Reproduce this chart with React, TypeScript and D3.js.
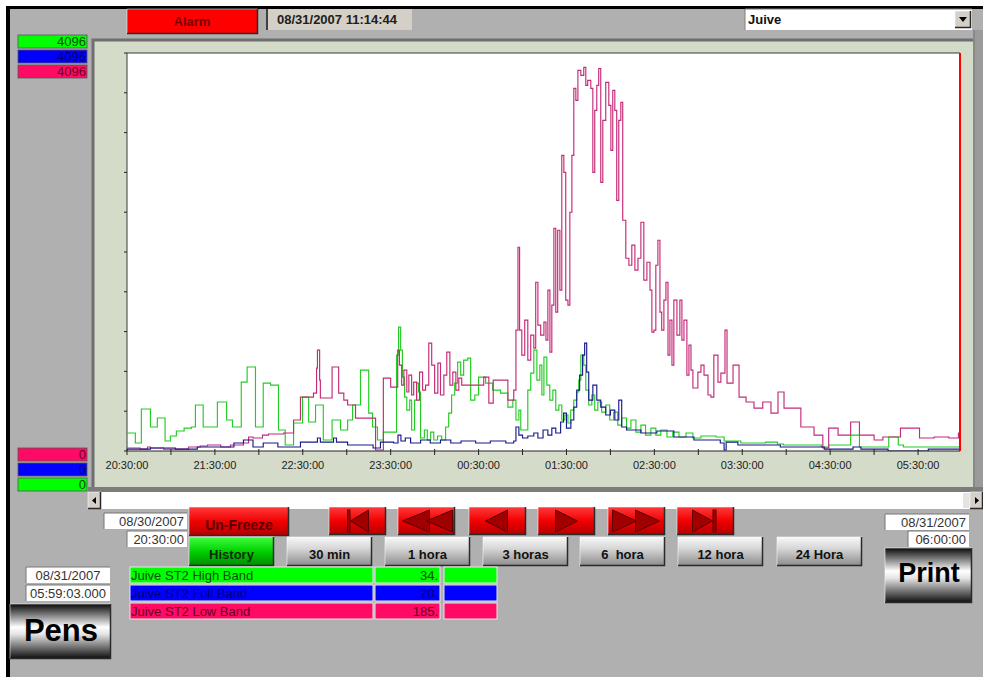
import React from "react";
import * as d3 from "d3";

// trend window shown on screen
const START = new Date(2007, 7, 30, 20, 30, 0);
const END = new Date(2007, 7, 31, 6, 0, 0);
const FULL_SCALE = 4096;

const xLabels = ["20:30:00", "21:30:00", "22:30:00", "23:30:00", "00:30:00", "01:30:00", "02:30:00", "03:30:00", "04:30:00", "05:30:00"];

// [minutes after 20:30, raw counts]
const highBand = [
  [0, 185], [5.7, 82], [9.8, 432], [16, 247], [20.7, 340], [26, 103], [29.6, 154], [33.7, 206], [39, 236], [44, 247],
  [46.7, 473], [52, 247], [61.7, 504], [68, 319], [72, 247], [78, 709], [82, 864], [87.7, 247], [93, 699], [98, 678],
  [103.4, 216], [108, 62], [113.7, 288], [119.8, 555], [124, 298], [128.7, 473], [134, 113], [140, 319], [145.8, 216],
  [150.6, 319], [154, 473], [159.4, 833], [165, 390], [167.6, 247], [171, 113], [175, 195], [184, 987], [185.4, 1275],
  [186.8, 1038], [188, 761], [189.5, 555], [191, 421], [193, 524], [194.3, 216], [196.3, 524], [197.7, 699], [199, 607],
  [200.4, 134], [203, 216], [205, 113], [207.3, 195], [209.4, 113], [212, 154], [214.8, 113], [217.5, 247], [219.6, 390],
  [221.6, 576], [223.7, 699], [225.7, 915], [227.8, 781], [229.8, 935], [232.6, 956], [234.6, 524], [237.4, 576],
  [240, 761], [244.8, 699], [249.6, 627], [255, 596], [260, 452], [263.4, 524], [265.5, 319], [267.5, 421], [268.8, 216],
  [273.6, 627], [275.6, 802], [277.7, 1038], [279.8, 730], [281.8, 884], [283.2, 576], [284.6, 966], [286.6, 678],
  [288.6, 524], [290.7, 627], [292.7, 421], [294.8, 473], [296.8, 319], [298.9, 370], [301, 288], [302.9, 421], [305, 524],
  [307, 607], [308.4, 730], [309.8, 987], [311.8, 884], [313.2, 627], [315.2, 473], [317.3, 576], [319.3, 421], [321.4, 504],
  [324, 400], [326.8, 473], [329.5, 319], [332.2, 400], [335, 267], [337.7, 340], [341, 236], [344, 319], [347.4, 195],
  [350.8, 267], [354, 164], [357.6, 236], [361, 164], [364.4, 216], [368.6, 144], [372.6, 195], [376.8, 144], [381.6, 185],
  [386.3, 134], [391.8, 154], [402, 144], [407.6, 103], [419, 82], [436, 92], [444, 72], [448, 62], [474, 41], [479, 62],
  [494, 164], [500, 41], [520, 144], [526.5, 62], [530, 41], [570, 41],
];

const fullBand = [
  [0, 20], [16, 31], [33, 20], [48, 41], [73, 82], [79.5, 113], [86, 41], [93, 82], [103, 41], [118.4, 92], [130, 134],
  [132, 92], [141, 134], [143, 92], [150.6, 62], [168, 31], [173, 92], [182, 82], [185, 164], [187, 103], [190, 134],
  [193.6, 82], [200.4, 113], [207, 82], [214, 113], [221, 82], [228, 103], [238, 82], [248, 103], [258.6, 82], [264, 103],
  [265.5, 247], [267.5, 164], [270, 134], [273.6, 154], [277.7, 185], [280.5, 134], [284, 216], [287.3, 164], [290, 236],
  [292.7, 185], [296, 298], [298, 390], [300, 236], [303, 319], [305, 452], [307, 627], [309, 781], [311, 987], [312.4, 1110],
  [313.8, 812], [315.2, 524], [318, 678], [320.7, 524], [323.4, 452], [326.8, 370], [330, 421], [333, 319], [335.7, 524],
  [337.7, 247], [341, 216], [350.8, 185], [361.7, 206], [373.3, 144], [387, 113], [405, 82], [407.6, 10], [409, 92],
  [417, 62], [446, 41], [476, 20], [495.6, 41], [501, 20], [519.5, 0], [547, 20], [570, 20],
];

const lowBand = [
  [0, 31], [9, 20], [14, 41], [16, 31], [25, 20], [42, 41], [50, 51], [55, 62], [64, 41], [70.6, 62], [79.5, 82], [83, 144],
  [86, 134], [92.5, 164], [96.6, 175], [107, 185], [113.7, 319], [118.4, 555], [127.3, 596], [129.4, 853], [130, 1038],
  [131.5, 730], [132, 545], [140, 864], [144.5, 596], [148, 524], [150.6, 473], [156, 339], [169.7, 10], [175, 750],
  [180, 658], [184.8, 1038], [186, 884], [187.5, 678], [189, 833], [191, 607], [192.4, 781], [194.3, 576], [195.7, 709],
  [197.7, 524], [199.7, 812], [201.8, 627], [203.8, 678], [206, 1110], [208, 884], [210, 596], [212.2, 905], [214, 576],
  [216.3, 781], [218.3, 1018], [220.4, 678], [222.4, 812], [224.5, 627], [226.5, 750], [228.5, 678], [243.5, 761],
  [247, 493], [250, 730], [260, 524], [264, 627], [265.5, 1244], [266.9, 2097], [268, 1244], [269.5, 987], [271.5, 1347],
  [273.6, 935], [275.6, 1192], [277.7, 1059], [279, 1737], [280.5, 1295], [282.4, 1192], [284.6, 1326], [286, 1141],
  [287.3, 1655], [288.7, 1018], [290, 1501], [291.4, 2292], [292.7, 1429], [294, 2272], [295.5, 1655], [296.8, 3043],
  [298.2, 2868], [299.5, 1552], [301, 1501], [302.3, 2457], [303.7, 3043], [305, 3732], [306.4, 3608], [307.8, 3917],
  [309.8, 3865], [311.8, 3948], [313.2, 3763], [314.5, 3814], [316.6, 3732], [318, 2868], [319.3, 3506], [320.7, 3763],
  [322, 3937], [323.4, 2765], [324.8, 3403], [326.8, 3793], [328.9, 3557], [330.3, 3094], [331.6, 3711], [333, 3506],
  [334.3, 2580], [335.7, 3403], [337.1, 3588], [338.4, 2375], [340.5, 1984], [342.6, 1912], [344.6, 2118], [346.7, 1861],
  [348.8, 1984], [350.8, 2354], [352.8, 1758], [354.9, 1943], [357, 1655], [358.3, 1223], [359.7, 1244], [361, 1912],
  [362.4, 2169], [363.8, 1429], [365, 1244], [366.5, 1552], [367.9, 1737], [369.3, 987], [370.6, 1347], [372, 884],
  [373.3, 1552], [375.4, 1192], [377.4, 1552], [378.8, 1141], [380.2, 1347], [382.2, 781], [383.6, 1090], [385, 833],
  [386.3, 648], [389.7, 812], [391.8, 884], [393.9, 781], [396.6, 576], [398.6, 555], [400.6, 987], [403.4, 709],
  [405.4, 802], [408.2, 1244], [409.6, 699], [413.7, 884], [417.8, 555], [422.6, 504], [428, 442], [434, 504],
  [439.6, 390], [444.4, 607], [448.5, 442], [460, 247], [469, 164], [475, 31], [479, 236], [485.4, 164], [494, 298],
  [500, 164], [510, 113], [516, 144], [528, 236], [541, 134], [551, 144], [561, 134], [567.6, 185], [570, 185],
];

const penNames = ["Juive ST2 High Band", "Juive ST2 Full Band", "Juive ST2 Low Band"];
const penValues = ["34.", "20.", "185."];
const penFill = ["#00ff00", "#0000ff", "#ff0a64"];
const penText = ["#0a4a0a", "#000070", "#6a0024"];
const lineColor = ["#22cc22", "#1a1a8c", "#c42a78"];

const rangeButtons = ["30 min", "1 hora", "3 horas", "6  hora", "12 hora", "24 Hora"];
const rangeX = [287, 385, 483, 580, 678, 777];
const navX = [329, 398, 469, 538, 608, 677];

const FONT = "Liberation Sans, Arial, sans-serif";

function Bevel({ x, y, w, h }) {
  return (
    <g>
      <path d={`M${x},${y + h} V${y} H${x + w}`} stroke="#ffffff" strokeOpacity={0.55} fill="none" />
      <path d={`M${x},${y + h - 0.5} H${x + w - 0.5} V${y}`} stroke="#2a2a2a" strokeWidth={1.5} fill="none" />
    </g>
  );
}

function Box({ x, y, w, h, text, anchor = "end" }) {
  const tx = anchor === "end" ? x + w - 3 : x + w / 2;
  return (
    <g>
      <rect x={x} y={y} width={w} height={h} fill="#ffffff" />
      <path d={`M${x},${y + h} V${y} H${x + w}`} stroke="#777" fill="none" />
      <text x={tx} y={y + h - 3} textAnchor={anchor} fontSize={13} fill="#333" fontFamily={FONT}>{text}</text>
    </g>
  );
}

function NavIcon({ i, cx, cy }) {
  const tri = (tip, base, dir) =>
    dir < 0 ? `M${tip},${cy} L${base},${cy - 11} L${base},${cy + 11} Z` : `M${tip},${cy} L${base},${cy - 11} L${base},${cy + 11} Z`;
  const st = { fill: "#a00000", stroke: "#5a0000", strokeWidth: 1 };
  if (i === 0) return <g><rect x={cx - 10} y={cy - 11} width={2.5} height={22} {...st} /><path d={tri(cx - 7, cx + 11, -1)} {...st} /></g>;
  if (i === 1) return <g><path d={tri(cx - 24, cx + 3, -1)} {...st} /><path d={tri(cx, cx + 26, -1)} {...st} /></g>;
  if (i === 2) return <path d={tri(cx - 12, cx + 10, -1)} {...st} />;
  if (i === 3) return <path d={tri(cx + 11, cx - 11, 1)} {...st} />;
  if (i === 4) return <g><path d={tri(cx, cx - 24, 1)} {...st} /><path d={tri(cx + 23, cx - 1, 1)} {...st} /></g>;
  return <g><path d={tri(cx + 7, cx - 13, 1)} {...st} /><rect x={cx + 7.5} y={cy - 11} width={3} height={22} {...st} /></g>;
}

export default function App() {
  const plot = { left: 127, top: 53, right: 960, bottom: 451 };
  const x = d3.scaleTime().domain([START, END]).range([127, 962]);
  const y = d3.scaleLinear().domain([0, FULL_SCALE]).range([plot.bottom, plot.top]);
  const at = (m: number) => new Date(START.getTime() + m * 60000);
  const line = d3.line<number[]>().x((d) => x(at(d[0]))).y((d) => y(d[1])).curve(d3.curveStepAfter);
  const xTicks = d3.timeMinute.every(30)!.range(START, END).filter((t) => x(t) <= plot.right);
  const yTicks = d3.range(0, 11).map((i) => (i * FULL_SCALE) / 10);
  const labelMin = (s: string) => {
    const [h, m] = s.split(":").map(Number);
    return (h * 60 + m - (20 * 60 + 30) + 1440) % 1440;
  };
  const series = [highBand, lowBand, fullBand];
  const seriesColor = [lineColor[0], lineColor[2], lineColor[1]];

  return (
    <svg width={983} height={677} style={{ position: "absolute", left: 0, top: 0, display: "block" }} fontFamily={FONT}>
      <defs>
        <linearGradient id="gRed" x1="0" y1="0" x2="0" y2="1">
          <stop offset="0" stopColor="#ff3a3a" />
          <stop offset="0.5" stopColor="#f20000" />
          <stop offset="1" stopColor="#b00000" />
        </linearGradient>
        <linearGradient id="gGreen" x1="0" y1="0" x2="0" y2="1">
          <stop offset="0" stopColor="#40ff40" />
          <stop offset="0.5" stopColor="#00d000" />
          <stop offset="1" stopColor="#008a00" />
        </linearGradient>
        <linearGradient id="gGray" x1="0" y1="0" x2="0" y2="1">
          <stop offset="0" stopColor="#f8f8f8" />
          <stop offset="0.4" stopColor="#d6d6d6" />
          <stop offset="1" stopColor="#8a8a8a" />
        </linearGradient>
        <linearGradient id="gChrome" x1="0" y1="0" x2="0" y2="1">
          <stop offset="0" stopColor="#0a0a0a" />
          <stop offset="0.42" stopColor="#ffffff" />
          <stop offset="0.55" stopColor="#e4e4e4" />
          <stop offset="1" stopColor="#0a0a0a" />
        </linearGradient>
        <clipPath id="plotClip">
          <rect x={plot.left} y={plot.top} width={plot.right - plot.left} height={plot.bottom - plot.top} />
        </clipPath>
      </defs>

      {/* window */}
      <rect x={0} y={0} width={983} height={677} fill="#ffffff" />
      <rect x={6} y={6} width={977} height={671} fill="#b0b0b0" />
      <rect x={6} y={6} width={977} height={3} fill="#000" />
      <rect x={6} y={6} width={4} height={671} fill="#000" />

      {/* header */}
      <rect x={127} y={9} width={131} height={25} fill="#ff0000" />
      <Bevel x={127} y={9} w={131} h={25} />
      <text x={192} y={26} textAnchor="middle" fontSize={13} fontWeight="bold" fill="#7a0000">Alarm</text>
      <rect x={266} y={9} width={146} height={21} fill="#d4d0c8" />
      <path d="M267,30 V9" stroke="#404040" strokeWidth={2} />
      <text x={277} y={24} fontSize={13} fontWeight="bold" fill="#202020">08/31/2007 11:14:44</text>
      <rect x={745} y={9} width={227} height={21} fill="#ffffff" />
      <path d="M745,30 V9 H972" stroke="#808080" fill="none" />
      <text x={748} y={24} fontSize={13} fontWeight="bold" fill="#111">Juive</text>
      <rect x={955} y={11} width={16} height={17} fill="#d4d0c8" />
      <Bevel x={955} y={11} w={16} h={17} />
      <path d="M959,17 L967,17 L963,22 Z" fill="#000" />

      {/* scale boxes */}
      {[0, 1, 2].map((i) => (
        <g key={"top" + i}>
          <rect x={18} y={35 + i * 15} width={69} height={13} fill={penFill[i]} stroke="#555" strokeWidth={0.8} />
          <text x={86} y={46 + i * 15} textAnchor="end" fontSize={13} fill={penText[i]}>4096</text>
        </g>
      ))}
      {[2, 1, 0].map((p, i) => (
        <g key={"bot" + i}>
          <rect x={18} y={448 + i * 15} width={69} height={13} fill={penFill[p]} stroke="#555" strokeWidth={0.8} />
          <text x={86} y={459 + i * 15} textAnchor="end" fontSize={13} fill={penText[p]}>0</text>
        </g>
      ))}

      {/* trend panel */}
      <rect x={93} y={39} width={880} height={449} fill="#d5dbc9" />
      <path d="M93,488 V40 H973" stroke="#6f6f6f" strokeWidth={3} fill="none" />
      <rect x={973} y={30} width={10} height={458} fill="#9a9a9a" />
      <line x1={974} y1={30} x2={974} y2={488} stroke="#777" />
      <rect x={88} y={487} width={895} height={5} fill="#7c7c7c" />
      <rect x={plot.left} y={plot.top} width={plot.right - plot.left} height={plot.bottom - plot.top} fill="#ffffff" />
      <path d={`M${plot.left},${plot.bottom} V${plot.top} H${plot.right}`} stroke="#3a3a3a" fill="none" />

      <g clipPath="url(#plotClip)">
        {series.map((s, i) => (
          <path key={i} d={line(s) ?? ""} fill="none" stroke={seriesColor[i]} strokeWidth={1.15} />
        ))}
      </g>
      <line x1={plot.right} y1={plot.top} x2={plot.right} y2={plot.bottom} stroke="#ff0000" strokeWidth={2} />

      {/* axes */}
      <line x1={plot.left} y1={plot.bottom} x2={plot.right} y2={plot.bottom} stroke="#222" />
      {yTicks.map((v) => (
        <line key={v} x1={plot.left - 3} x2={plot.left} y1={y(v)} y2={y(v)} stroke="#222" />
      ))}
      {xTicks.map((t) => (
        <line key={+t} x1={x(t)} x2={x(t)} y1={plot.bottom - 2} y2={plot.bottom + 4} stroke="#222" />
      ))}
      {xLabels.map((s) => (
        <text key={s} x={x(at(labelMin(s)))} y={469} textAnchor="middle" fontSize={11} fill="#222">{s}</text>
      ))}

      {/* scrollbar */}
      <rect x={88} y={492} width={895} height={17} fill="#ffffff" />
      <rect x={88} y={492} width={13} height={17} fill="#d4d0c8" />
      <Bevel x={88} y={492} w={13} h={17} />
      <path d="M92,500.5 L96,497 L96,504 Z" fill="#000" />
      <rect x={963} y={493} width={7} height={15} fill="#e4e4e4" />
      <rect x={970} y={492} width={13} height={17} fill="#d4d0c8" />
      <Bevel x={970} y={492} w={13} h={17} />
      <path d="M979,500.5 L975,497 L975,504 Z" fill="#000" />

      {/* time range boxes */}
      <Box x={104} y={513} w={83} h={16} text="08/30/2007" />
      <Box x={127} y={531} w={60} h={16} text="20:30:00" />
      <Box x={885} y={514} w={84} h={16} text="08/31/2007" />
      <Box x={908} y={531} w={61} h={16} text="06:00:00" />
      <Box x={26} y={567} w={84} h={16} text="08/31/2007" anchor="middle" />
      <Box x={26} y={585} w={84} h={16} text="05:59:03.000" anchor="middle" />

      {/* controls */}
      <rect x={189} y={507} width={100} height={29} fill="url(#gRed)" />
      <Bevel x={189} y={507} w={100} h={29} />
      <text x={239} y={530} textAnchor="middle" fontSize={14} fontWeight="bold" fill="#5a0000">Un-Freeze</text>
      {navX.map((nx, i) => (
        <g key={"nav" + i}>
          <rect x={nx} y={507} width={57} height={28} fill="url(#gRed)" />
          <Bevel x={nx} y={507} w={57} h={28} />
          <NavIcon i={i} cx={nx + 28.5} cy={521} />
        </g>
      ))}
      <rect x={189} y={537} width={85} height={29} fill="url(#gGreen)" />
      <Bevel x={189} y={537} w={85} h={29} />
      <text x={231.5} y={559} textAnchor="middle" fontSize={13} fontWeight="bold" fill="#0a2a0a">History</text>
      {rangeButtons.map((b, i) => (
        <g key={b}>
          <rect x={rangeX[i]} y={537} width={85} height={29} fill="url(#gGray)" />
          <Bevel x={rangeX[i]} y={537} w={85} h={29} />
          <text x={rangeX[i] + 42.5} y={559} textAnchor="middle" fontSize={13} fontWeight="bold" fill="#111" style={{ whiteSpace: "pre" }}>{b}</text>
        </g>
      ))}

      {/* pen legend */}
      {penNames.map((n, i) => (
        <g key={n}>
          <rect x={130} y={567 + i * 18} width={243} height={16} fill={penFill[i]} stroke="#e8e8e8" />
          <text x={131} y={580 + i * 18} fontSize={13} fill={penText[i]}>{n}</text>
          <rect x={375} y={567 + i * 18} width={65} height={16} fill={penFill[i]} stroke="#e8e8e8" />
          <text x={438} y={580 + i * 18} textAnchor="end" fontSize={13} fill={penText[i]}>{penValues[i]}</text>
          <rect x={444} y={567 + i * 18} width={53} height={16} fill={penFill[i]} stroke="#e8e8e8" />
        </g>
      ))}

      <rect x={885} y={548} width={87} height={55} fill="url(#gChrome)" />
      <Bevel x={885} y={548} w={87} h={55} />
      <text x={929} y={582} textAnchor="middle" fontSize={27} fontWeight="bold" fill="#000">Print</text>
      <rect x={10} y={604} width={101} height={55} fill="url(#gChrome)" />
      <Bevel x={10} y={604} w={101} h={55} />
      <text x={61} y={641} textAnchor="middle" fontSize={31} fontWeight="bold" fill="#000">Pens</text>
    </svg>
  );
}
